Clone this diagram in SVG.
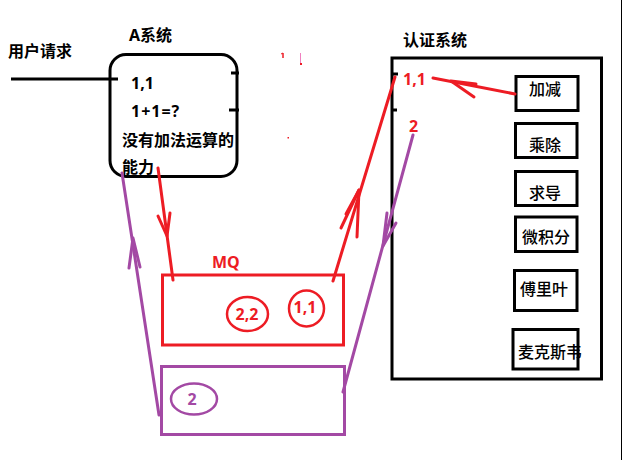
<svg xmlns="http://www.w3.org/2000/svg" width="622" height="460" viewBox="0 0 622 460">
<style>
  .t{font-family:"Noto Sans","Noto Sans CJK SC",sans-serif;font-size:16px;fill:#000}
  .b{font-weight:bold}
  .m{font-weight:500}
  .red{fill:#ED1C24}
  .pur{fill:#A349A4}
  .blk{fill:none;stroke:#000;stroke-width:3}
  .rs{fill:none;stroke:#ED1C24;stroke-width:3;stroke-linecap:round;stroke-linejoin:round}
  .ps{fill:none;stroke:#A349A4;stroke-width:3;stroke-linecap:round;stroke-linejoin:round}
</style>
<rect width="622" height="460" fill="#fff"/>
<line x1="621.5" y1="0" x2="621.5" y2="460" stroke="#000" stroke-width="1"/>

<g id="user-request">
  <text class="t b" x="8" y="57">用户请求</text>
  <line x1="11" y1="79" x2="118" y2="79" stroke="#000" stroke-width="3"/>
</g>

<g id="a-system">
  <text class="t b" x="129" y="41">A系统</text>
  <rect class="blk" x="110" y="54.5" width="127" height="122" rx="16"/>
  <line x1="231" y1="73" x2="239" y2="73" stroke="#000" stroke-width="3"/>
  <line x1="229" y1="110" x2="239" y2="110" stroke="#000" stroke-width="3"/>
  <text class="t b" x="131" y="89">1,1</text>
  <text class="t b" x="131" y="117" letter-spacing="1">1+1=?</text>
  <text class="t b" x="122" y="146">没有加法运算的</text>
  <text class="t b" x="122" y="173">能力</text>
</g>

<g id="marks">
  <line x1="283" y1="53" x2="283" y2="58" stroke="#ED1C24" stroke-width="1.5"/>
  <line x1="281" y1="54" x2="283" y2="53" stroke="#ED1C24" stroke-width="1"/>
  <line x1="300.5" y1="53" x2="300.5" y2="63" stroke="#F080C0" stroke-width="1"/>
  <rect x="300" y="63" width="2" height="2" fill="#ED1C24"/>
  <rect x="287.5" y="137" width="1.5" height="1.5" fill="#ED1C24"/>
</g>

<g id="mq">
  <text class="t b red" x="212" y="268">MQ</text>
  <rect x="162.5" y="275" width="181" height="70" fill="none" stroke="#ED1C24" stroke-width="3"/>
  <ellipse cx="247.5" cy="314" rx="20.5" ry="17" fill="none" stroke="#ED1C24" stroke-width="2.5"/>
  <text class="t b red" x="247" y="319.5" text-anchor="middle">2,2</text>
  <ellipse cx="306.5" cy="308.5" rx="17.5" ry="18" fill="none" stroke="#ED1C24" stroke-width="2.5"/>
  <text class="t b red" x="305" y="313" text-anchor="middle">1,1</text>
</g>

<g id="result-queue">
  <rect x="161.5" y="366.5" width="183" height="68" fill="none" stroke="#A349A4" stroke-width="3"/>
  <ellipse cx="194" cy="399" rx="23" ry="15.5" fill="none" stroke="#A349A4" stroke-width="2.5"/>
  <text class="t b pur" x="192" y="404.5" text-anchor="middle">2</text>
</g>

<g id="auth-system">
  <text class="t b" x="403" y="46">认证系统</text>
  <rect class="blk" x="392" y="58" width="209.5" height="321"/>
  <line x1="391" y1="74" x2="398" y2="74" stroke="#000" stroke-width="3"/>
  <line x1="391" y1="110" x2="397" y2="110" stroke="#000" stroke-width="3"/>
  <text class="t b red" x="403" y="85">1,1</text>
  <text class="t b red" x="409" y="132">2</text>
</g>

<g id="op-add"><rect class="blk" x="516" y="76.5" width="62" height="34"/><text class="t m" x="545" y="95" text-anchor="middle">加减</text></g>
<g id="op-mul"><rect class="blk" x="515.5" y="123.5" width="61.5" height="34"/><text class="t m" x="545" y="151" text-anchor="middle">乘除</text></g>
<g id="op-der"><rect class="blk" x="515.5" y="171.5" width="61.5" height="34"/><text class="t m" x="545" y="199" text-anchor="middle">求导</text></g>
<g id="op-int"><rect class="blk" x="515.5" y="217" width="61.5" height="34.5"/><text class="t m" x="546" y="243" text-anchor="middle">微积分</text></g>
<g id="op-fourier"><rect class="blk" x="514.5" y="270.5" width="62.5" height="40"/><text class="t m" x="544" y="295" text-anchor="middle">傅里叶</text></g>
<g id="op-maxwell"><rect class="blk" x="513" y="329.5" width="65" height="39.5"/><text class="t m" x="550" y="358" text-anchor="middle">麦克斯韦</text></g>

<g id="connectors">
  <!-- A system to MQ (red, down) -->
  <path class="rs" d="M158 168 L173 280"/>
  <path class="rs" d="M158 216 L167 236 L170 213"/>
  <!-- MQ to auth 1,1 (red, up) -->
  <path class="rs" d="M333 281 L395 77"/>
  <path class="rs" d="M341 228 L359 190 L357 237"/>
  <path class="rs" d="M346 214 L359 190"/>
  <!-- 加减 to 1,1 (red) -->
  <path class="rs" d="M515 94 L433 78"/>
  <path class="rs" d="M476 84 L451 81 L474 97"/>
  <!-- auth 2 to purple queue (purple, down) -->
  <path class="ps" d="M413 135 L343 392"/>
  <path class="ps" d="M387 213 L383 246 L396 223"/>
  <!-- purple queue to A system (purple, up) -->
  <path class="ps" d="M159 415 L122 173"/>
  <path class="ps" d="M129 268 L133 238 L140 267"/>
</g>
</svg>
